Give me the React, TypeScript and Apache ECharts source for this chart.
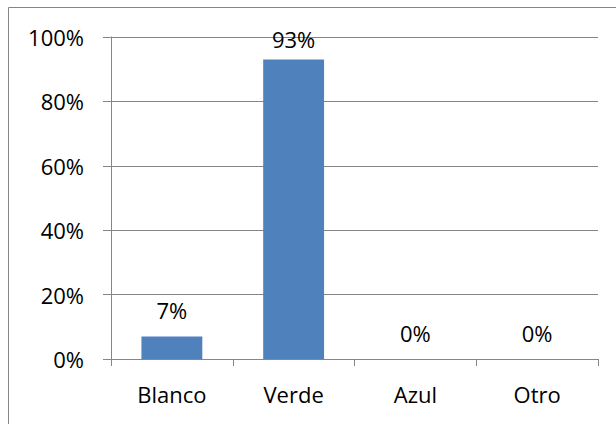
import React, { useEffect, useRef } from "react";
import * as echarts from "echarts";

const categories = ["Blanco", "Verde", "Azul", "Otro"];
const values = [0.07, 0.93, 0, 0];
const yTicks = [0, 0.2, 0.4, 0.6, 0.8, 1];

export default function App() {
  const ref = useRef<HTMLDivElement>(null);
  useEffect(() => {
    if (!ref.current) return;
    const chart = echarts.init(ref.current, null, { renderer: "svg" });
    const font = "'Open Sans', 'Liberation Sans', sans-serif";
    const fs = 22;
    chart.setOption({
      animation: false,
      backgroundColor: "#ffffff",
      textStyle: { fontFamily: font },
      graphic: [
        {
          type: "rect",
          shape: { x: 8.5, y: 7.5, width: 640, height: 440 },
          style: { fill: "none", stroke: "#868686", lineWidth: 1 },
          silent: true,
        },
      ],
      grid: { left: 111, right: 18, top: 37, bottom: 65 },
      xAxis: {
        type: "category",
        data: categories,
        axisLine: { lineStyle: { color: "#868686", width: 1 } },
        axisTick: { show: true, length: 7, alignWithLabel: false, lineStyle: { color: "#868686" } },
        axisLabel: { color: "#000", fontSize: fs, fontFamily: font, margin: 24 },
        splitLine: { show: false },
      },
      yAxis: {
        type: "value",
        min: 0,
        max: 1,
        interval: 0.2,
        axisLine: { show: true, lineStyle: { color: "#868686", width: 1 } },
        axisTick: { show: true, length: 8, lineStyle: { color: "#868686" } },
        axisLabel: {
          color: "#000",
          fontSize: fs,
          fontFamily: font,
          margin: 27,
          formatter: (v: number) => (yTicks.includes(Math.round(v * 10) / 10) ? Math.round(v * 100) + "%" : ""),
        },
        splitLine: { show: true, lineStyle: { color: "#868686", width: 1 } },
      },
      series: [
        {
          type: "bar",
          data: values.map((v) => (v > 0.9 ? { value: v, label: { distance: 10 } } : v)),
          barWidth: "50%",
          itemStyle: { color: "#4F81BD" },
          label: {
            show: true,
            position: "top",
            distance: 15,
            color: "#000",
            fontSize: fs,
            fontFamily: font,
            formatter: (p: any) => Math.round(p.value * 100) + "%",
          },
        },
      ],
    });
    return () => chart.dispose();
  }, []);
  return <div ref={ref} style={{ width: 616, height: 424, position: "absolute", left: 0, top: 0 }} />;
}
